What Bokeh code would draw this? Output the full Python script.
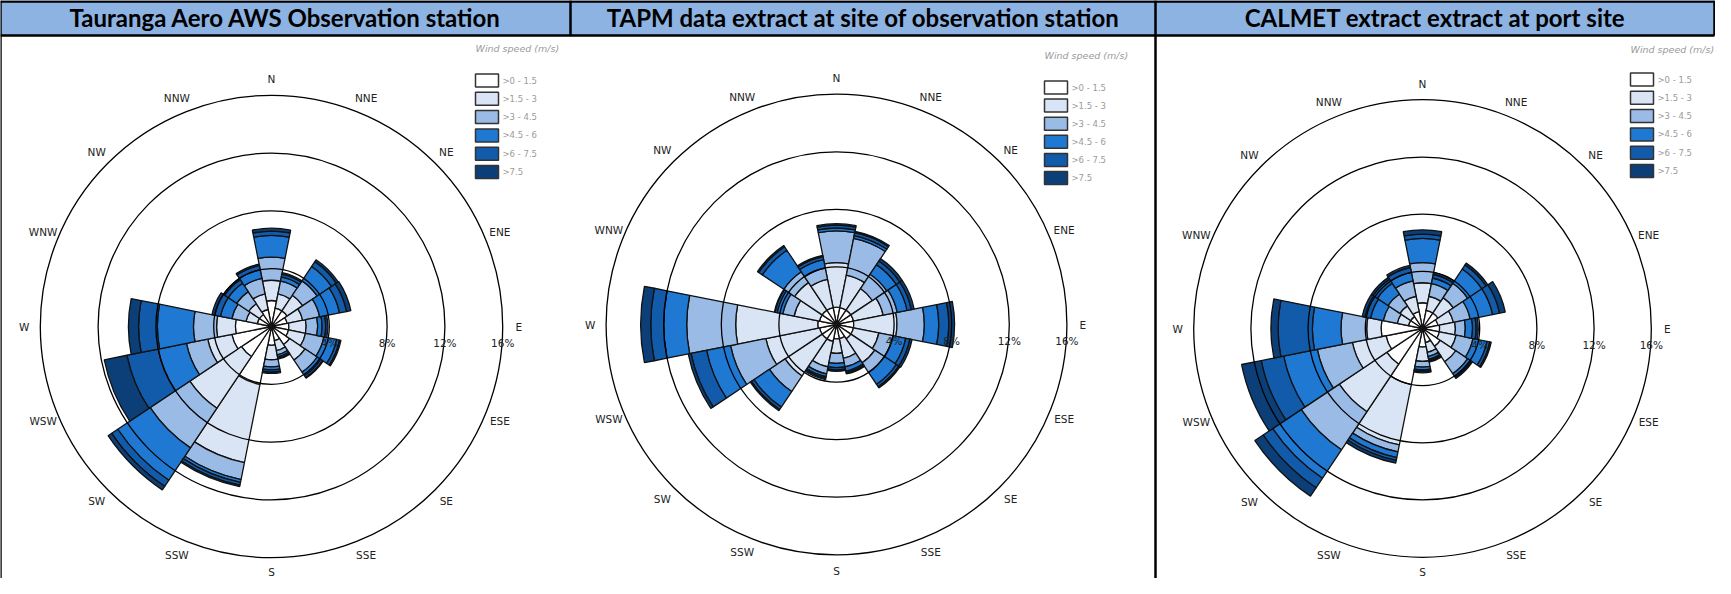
import numpy as np
from bokeh.plotting import figure
from bokeh.models import Range1d, ColumnDataSource
from bokeh.core.properties import value
from bokeh.embed import file_html
from bokeh.resources import INLINE

# ---------------- data ----------------
directions = ["N", "NNE", "NE", "ENE", "E", "ESE", "SE", "SSE",
              "S", "SSW", "SW", "WSW", "W", "WNW", "NW", "NNW"]
speed_bins = [">0 - 1.5", ">1.5 - 3", ">3 - 4.5", ">4.5 - 6", ">6 - 7.5", ">7.5"]
bin_colors = ["#FFFFFF", "#D9E5F5", "#9ABBE5", "#1F78D1", "#125BAA", "#0C3F78"]
ring_ticks = [4, 8, 12, 16]
ring_labels = ["4%", "8%", "12%", "16%"]
titles = ["Tauranga Aero AWS Observation station",
          "TAPM data extract at site of observation station",
          "CALMET extract extract at port site"]
legend_title = "Wind speed (m/s)"

# frequency (%) per direction (N..NNW) for each wind-speed bin
aero_0_15  = [1.8, 1.3, 1.3, 1.1, 1.2, 1.2, 1.5, 1.0, 1.3, 4.1, 2.5, 2.8, 2.5, 1.0, 1.0, 1.2]
aero_15_3  = [1.4, 1.0, 1.3, 1.1, 1.2, 1.2, 1.3, 0.7, 1.0, 5.5, 4.3, 1.7, 1.3, 0.8, 0.9, 1.1]
aero_3_45  = [1.6, 0.9, 1.2, 1.2, 0.8, 1.3, 1.0, 0.3, 0.5, 1.2, 3.3, 1.5, 1.6, 1.0, 1.0, 1.1]
aero_45_6  = [1.5, 0.3, 1.2, 1.4, 0.3, 0.9, 0.3, 0.15, 0.2, 0.2, 2.7, 2.0, 2.5, 0.8, 0.7, 0.6]
aero_6_75  = [0.3, 0.2, 0.4, 0.5, 0.25, 0.2, 0.15, 0.1, 0.15, 0.2, 0.5, 2.2, 1.3, 0.4, 0.3, 0.3]
aero_75    = [0.2, 0.1, 0.15, 0.3, 0.15, 0.1, 0.05, 0.05, 0.1, 0.1, 0.3, 1.6, 0.7, 0.2, 0.1, 0.1]

tapm_0_15  = [1.2, 1.2, 1.2, 1.2, 1.2, 1.2, 1.2, 1.0, 1.0, 1.2, 1.2, 1.2, 1.3, 1.2, 1.2, 1.2]
tapm_15_3  = [3.1, 2.3, 1.8, 2.1, 3.0, 1.8, 2.0, 1.4, 1.0, 1.8, 3.1, 3.8, 5.7, 1.8, 2.3, 2.0]
tapm_3_45  = [2.2, 2.6, 1.2, 1.0, 1.9, 1.0, 0.8, 0.6, 0.7, 0.5, 1.3, 2.5, 3.4, 0.8, 0.9, 0.8]
tapm_45_6  = [0.2, 0.2, 0.8, 0.7, 1.0, 0.9, 1.0, 0.3, 0.3, 0.2, 1.3, 1.7, 1.6, 0.4, 1.8, 0.6]
tapm_6_75  = [0.2, 0.2, 0.3, 0.3, 0.7, 0.3, 0.2, 0.1, 0.15, 0.1, 0.2, 1.1, 0.9, 0.15, 0.3, 0.2]
tapm_75    = [0.1, 0.1, 0.2, 0.2, 0.4, 0.15, 0.1, 0.1, 0.1, 0.1, 0.1, 0.2, 0.7, 0.05, 0.1, 0.1]

calmet_0_15 = [1.8, 1.3, 1.3, 1.1, 1.2, 1.2, 1.5, 1.0, 1.3, 4.0, 3.0, 2.6, 2.9, 1.0, 1.0, 1.2]
calmet_15_3 = [1.4, 1.0, 1.3, 1.1, 1.1, 1.2, 1.3, 0.7, 1.0, 4.3, 4.0, 2.4, 1.0, 0.8, 0.9, 1.1]
calmet_3_45 = [1.4, 0.9, 1.2, 1.2, 0.7, 1.2, 1.0, 0.3, 0.4, 0.5, 3.2, 2.5, 1.8, 1.0, 1.0, 1.1]
calmet_45_6 = [1.7, 0.4, 1.2, 1.6, 0.5, 1.0, 0.25, 0.2, 0.2, 0.4, 2.4, 2.4, 2.0, 0.9, 0.9, 0.6]
calmet_6_75 = [0.3, 0.25, 0.35, 0.5, 0.25, 0.2, 0.1, 0.1, 0.1, 0.2, 0.8, 1.6, 2.4, 0.4, 0.35, 0.35]
calmet_75   = [0.3, 0.15, 0.15, 0.4, 0.15, 0.1, 0.05, 0.1, 0.1, 0.2, 0.7, 1.4, 0.5, 0.2, 0.15, 0.15]

aero = [aero_0_15, aero_15_3, aero_3_45, aero_45_6, aero_6_75, aero_75]
tapm = [tapm_0_15, tapm_15_3, tapm_3_45, tapm_45_6, tapm_6_75, tapm_75]
calmet = [calmet_0_15, calmet_15_3, calmet_3_45, calmet_45_6, calmet_6_75, calmet_75]

# ---------------- layout (page pixel coordinates) ----------------
W, H = 1715, 578


def X(px):
    return px - 8


def Y(py):
    return 586 - py


panels = [
    dict(data=aero, cx=279, cy=334, s=14.45, lx=483, lty=56, ly0=88, ldy=18.3),
    dict(data=tapm, cx=844, cy=332, s=14.4, lx=1052, lty=63, ly0=95, ldy=18.1),
    dict(data=calmet, cx=1430, cy=336, s=14.3, lx=1638, lty=57, ly0=87, ldy=18.3),
]
col_edges = [8, 578, 1163, 1722]
header_bottom = 43

p = figure(width=W, height=H, x_range=Range1d(0, W), y_range=Range1d(0, H),
           output_backend="svg", toolbar_location=None, min_border=0,
           x_axis_type=None, y_axis_type=None)
p.grid.visible = False
p.outline_line_color = None
p.background_fill_color = "white"
p.border_fill_color = "white"

# header band
p.quad(left=X(col_edges[0]), right=X(col_edges[-1]), top=Y(8), bottom=Y(header_bottom),
       fill_color="#8DB3E2", line_color=None)

label_font = value("DejaVu Sans")
half = np.deg2rad(11.25)
bearings = np.arange(len(directions)) * 22.5

for k, pan in enumerate(panels):
    cx, cy, s = X(pan["cx"]), Y(pan["cy"]), pan["s"]
    vals = np.array(pan["data"], dtype=float)
    cum = np.cumsum(vals, axis=0)
    xs, ys, rin, rout, st, en, col = [], [], [], [], [], [], []
    for b in range(len(speed_bins)):
        for d in range(len(directions)):
            theta = np.deg2rad(90 - bearings[d])
            inner = 0.0 if b == 0 else cum[b - 1, d] * s
            xs.append(cx); ys.append(cy)
            rin.append(inner); rout.append(cum[b, d] * s)
            st.append(theta - half); en.append(theta + half)
            col.append(bin_colors[b])
    src = ColumnDataSource(dict(x=xs, y=ys, rin=rin, rout=rout, st=st, en=en, col=col))
    p.annular_wedge(x="x", y="y", inner_radius="rin", outer_radius="rout",
                    start_angle="st", end_angle="en", fill_color="col",
                    line_color="#111111", line_width=1.3, source=src)

    # rings on top
    p.circle(x=[cx] * len(ring_ticks), y=[cy] * len(ring_ticks),
             radius=[t * s for t in ring_ticks], fill_color=None,
             line_color="black", line_width=1.3)
    p.text(x=[cx + t * s for t in ring_ticks], y=[cy - 16] * len(ring_ticks),
           text=ring_labels, text_align="center", text_baseline="middle",
           text_font=label_font, text_font_size="10.5px", text_color="#222222")

    # compass labels (kept inside the page at the bottom)
    lr = 16 * s + 16
    ang = np.deg2rad(90 - bearings)
    lab_y = np.maximum(cy + lr * np.sin(ang), Y(579))
    p.text(x=cx + lr * np.cos(ang), y=lab_y, text=directions,
           text_align="center", text_baseline="middle",
           text_font=label_font, text_font_size="10.5px", text_color="#222222")

    # legend
    lx = X(pan["lx"])
    p.text(x=[lx], y=[Y(pan["lty"])], text=[legend_title], text_align="left",
           text_baseline="middle", text_font=label_font, text_font_size="9.5px",
           text_font_style="italic", text_color="#9A9A9A")
    ly = [Y(pan["ly0"] + i * pan["ldy"]) for i in range(len(speed_bins))]
    p.rect(x=[lx + 11.5] * len(speed_bins), y=ly, width=23, height=13,
           fill_color=bin_colors, line_color="#333333", line_width=1.5)
    p.text(x=[lx + 27] * len(speed_bins), y=ly, text=speed_bins, text_align="left",
           text_baseline="middle", text_font=label_font, text_font_size="8.5px",
           text_color="#9A9A9A")

# titles
centers = [(col_edges[i] + col_edges[i + 1]) / 2 for i in range(3)]
p.text(x=[X(c) for c in centers], y=[Y(25)] * 3, text=titles,
       text_align="center", text_baseline="middle", text_font=value("Lato"),
       text_font_size="24px", text_font_style="bold", text_color="black")

# table borders
bx0 = [X(col_edges[0]), X(col_edges[0]), X(col_edges[0]), X(col_edges[1]), X(col_edges[2]), X(col_edges[3])]
by0 = [Y(9), Y(header_bottom), Y(8), Y(8), Y(8), Y(8)]
bx1 = [X(col_edges[-1]), X(col_edges[-1]), X(col_edges[0]), X(col_edges[1]), X(col_edges[2]), X(col_edges[3])]
by1 = [Y(9), Y(header_bottom), Y(586), Y(header_bottom), Y(586), Y(header_bottom)]
p.segment(x0=bx0, y0=by0, x1=bx1, y1=by1, line_color="black", line_width=2.5)

open("out.html", "w").write(file_html(p, INLINE))
